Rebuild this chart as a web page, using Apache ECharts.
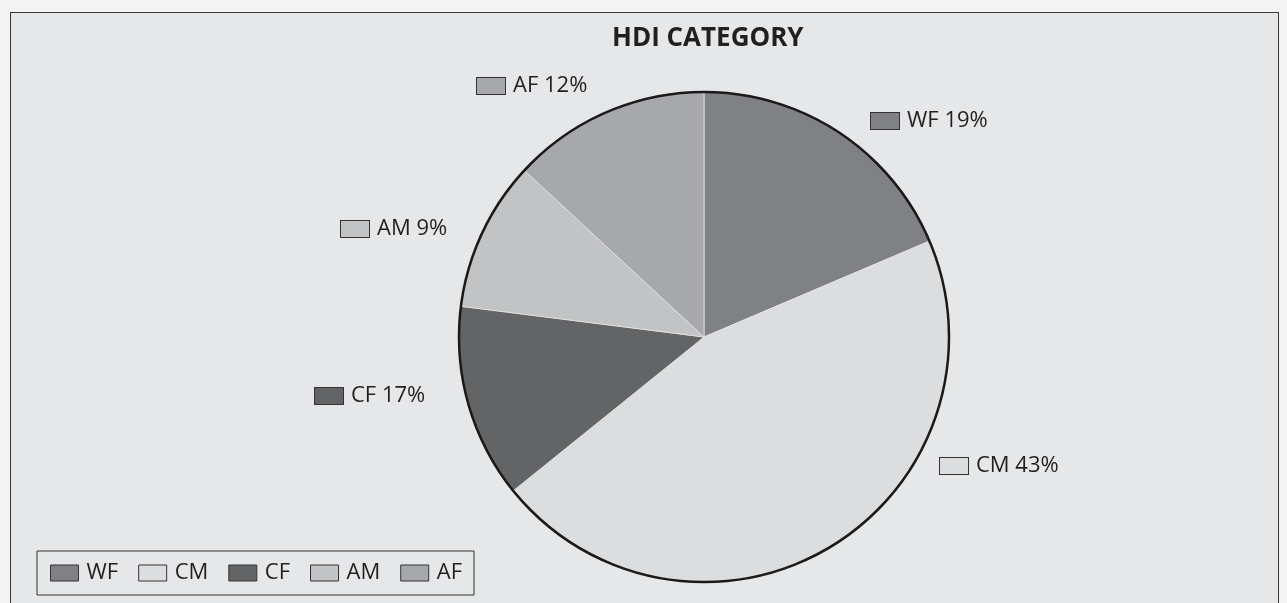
<!DOCTYPE html>
<html lang="en">
<head>
<meta charset="utf-8">
<script src="https://cdn.jsdelivr.net/npm/echarts@6/dist/echarts.min.js"></script>
<style>
	html, body { margin: 0; padding: 0; background: #f3f3f3; overflow: hidden; }
	#hdi { position: absolute; left: 10px; top: 12px; width: 1267px; height: 600px;
		border: 1.5px solid #3a3a3a; background: #e6e7e9; }
</style>
</head>
<body>
<div id="hdi"></div>

<script type="text/javascript">
    // slice sizes as drawn (percent of the circle), and the percentages printed in the labels
    var categories = ['WF', 'CM', 'CF', 'AM', 'AF'];
    var sliceValues = [18.6, 45.6, 12.8, 9.9, 13.1];
    var labelPercents = [19, 43, 17, 9, 12];
    var colors = ['#808185', '#dcdddf', '#636466', '#c2c3c5', '#a7a8ab'];

    // where each outside label sits (left edge of its swatch, vertical middle)
    var labelAnchors = [[860, 108], [929, 453], [304, 383], [330, 216], [466, 73]];

    var pieData = [];
    for (var i = 0; i < categories.length; i++) {
        pieData.push({
            name: categories[i],
            value: sliceValues[i],
            itemStyle: { color: colors[i] },
            label: {
                rich: {
                    box: { width: 28, height: 16, backgroundColor: colors[i], borderColor: '#333', borderWidth: 1 },
                    t: { fontSize: 22, color: '#231f20', padding: [0, 0, 0, 8], fontFamily: 'Open Sans' }
                }
            }
        });
    }

    var myChart = echarts.init(document.getElementById('hdi'));
    var option = {
        animation: false,
        title: {
            text: 'HDI CATEGORY',
            left: 596,
            top: 8,
            textStyle: { fontSize: 26, fontWeight: 'bold', color: '#231f20', fontFamily: 'Open Sans' }
        },
        legend: {
            data: categories,
            left: 26,
            top: 538,
            orient: 'horizontal',
            padding: [11, 12, 11, 13],
            borderColor: '#333',
            borderWidth: 1,
            itemGap: 20,
            itemWidth: 28,
            itemHeight: 16,
            icon: 'rect',
            itemStyle: { borderColor: '#333', borderWidth: 1 },
            textStyle: { fontSize: 22, color: '#231f20', fontFamily: 'Open Sans', padding: [0, 0, 0, 3] }
        },
        series: [{
            name: 'HDI',
            type: 'pie',
            center: [693, 324],
            radius: 245,
            startAngle: 90,
            clockwise: true,
            silent: true,
            itemStyle: { borderColor: '#e4e4e4', borderWidth: 0.8 },
            label: {
                show: true,
                position: 'outside',
                formatter: function (p) {
                    return '{box|}{t|' + p.name + ' ' + labelPercents[p.dataIndex] + '%}';
                }
            },
            labelLine: { show: false },
            labelLayout: function (p) {
                var a = labelAnchors[p.dataIndex];
                return { x: a[0], y: a[1], align: 'left', verticalAlign: 'middle' };
            },
            data: pieData
        }, {
            name: 'outline',
            type: 'pie',
            center: [693, 324],
            radius: 245,
            silent: true,
            label: { show: false },
            labelLine: { show: false },
            itemStyle: { color: 'rgba(0,0,0,0)', borderColor: '#1a1a1a', borderWidth: 2.5 },
            data: [{ name: 'outline', value: 1 }]
        }]
    };
    myChart.setOption(option);
</script>
</body>
</html>
